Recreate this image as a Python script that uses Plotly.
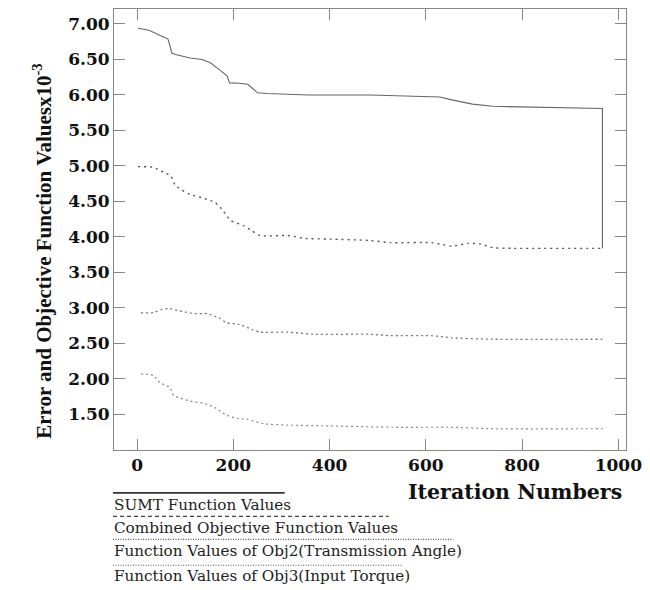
import plotly.graph_objects as go

# Convergence histories (values x 10^-3) against iteration number
sumt_x = [2, 25, 50, 64, 68, 72, 80, 110, 135, 153, 170, 187, 192, 212, 230, 242, 250, 270,
          315, 357, 484, 527, 569, 629, 654, 697, 739, 824, 967, 967]
sumt_y = [6.94, 6.91, 6.83, 6.79, 6.70, 6.59, 6.57, 6.52, 6.50, 6.45, 6.36, 6.27, 6.17, 6.165,
          6.15, 6.08, 6.03, 6.02, 6.01, 6.00, 6.00, 5.99, 5.98, 5.97, 5.93, 5.87, 5.84, 5.83,
          5.81, 3.84]

comb_x = [2, 34, 55, 70, 80, 110, 136, 161, 170, 183, 195, 221, 238, 255, 314, 348, 399, 484,
          527, 612, 637, 654, 689, 714, 739, 782, 967]
comb_y = [4.99, 4.98, 4.91, 4.86, 4.72, 4.60, 4.55, 4.49, 4.44, 4.33, 4.23, 4.16, 4.09, 4.02,
          4.02, 3.98, 3.97, 3.95, 3.92, 3.92, 3.89, 3.87, 3.91, 3.90, 3.85, 3.84, 3.84]

obj2_x = [8, 34, 51, 68, 94, 119, 145, 170, 187, 212, 238, 255, 314, 365, 484, 527, 612, 654,
          739, 967]
obj2_y = [2.93, 2.935, 2.98, 2.99, 2.95, 2.92, 2.92, 2.86, 2.79, 2.77, 2.70, 2.66, 2.66, 2.63,
          2.63, 2.61, 2.61, 2.58, 2.56, 2.56]

obj3_x = [8, 34, 47, 68, 76, 110, 136, 161, 183, 204, 229, 263, 314, 399, 535, 654, 739, 967]
obj3_y = [2.07, 2.05, 1.95, 1.88, 1.77, 1.69, 1.66, 1.60, 1.50, 1.45, 1.43, 1.37, 1.35, 1.34,
          1.32, 1.32, 1.30, 1.30]

x_ticks = [0, 200, 400, 600, 800, 1000]
y_ticks = [1.5, 2.0, 2.5, 3.0, 3.5, 4.0, 4.5, 5.0, 5.5, 6.0, 6.5, 7.0]

legend_names = ["SUMT Function Values",
                "Combined Objective Function Values",
                "Function Values of Obj2(Transmission Angle)",
                "Function Values of Obj3(Input Torque)"]

W, H = 650, 590
L, R, T, B = 114, 14, 8, 140
PW, PH = W - L - R, H - T - B


def px(x):
    return (x - L) / PW


def py(y):
    return (H - B - y) / PH


fig = go.Figure()
fig.add_trace(go.Scatter(x=sumt_x, y=sumt_y, mode="lines",
                         line=dict(color="#666666", width=1.1)))
fig.add_trace(go.Scatter(x=comb_x, y=comb_y, mode="lines", line_shape="spline",
                         line=dict(color="#555555", width=1.4, dash="2px,4px", smoothing=0.6)))
fig.add_trace(go.Scatter(x=obj2_x, y=obj2_y, mode="lines", line_shape="spline",
                         line=dict(color="#777777", width=1.3, dash="2px,3px", smoothing=0.6)))
fig.add_trace(go.Scatter(x=obj3_x, y=obj3_y, mode="lines", line_shape="spline",
                         line=dict(color="#888888", width=1.2, dash="2px,3px", smoothing=0.6)))

axis_common = dict(showline=True, mirror="ticks", linecolor="#888888", linewidth=1,
                   ticks="inside", ticklen=11, tickcolor="#888888", tickwidth=1,
                   showgrid=False, zeroline=False,
                   tickfont=dict(family="DejaVu Serif", size=17, color="#111111"))

fig.update_xaxes(range=[-48, 1016], tickvals=x_ticks, ticktext=[f"<b>{v}</b>" for v in x_ticks],
                 ticklabeloverflow="allow", **axis_common)
fig.update_yaxes(range=[1.0, 7.21], tickvals=y_ticks,
                 ticktext=[f"<b>{v:.2f}</b>" for v in y_ticks], **axis_common)

annotations = [
    dict(text="<b>Error and Objective Function Valuesx10<sup>-3</sup></b>", textangle=-90,
         x=px(41), y=py(250), xref="paper", yref="paper", xanchor="center", yanchor="middle",
         showarrow=False, font=dict(family="Liberation Serif", size=21, color="#111111")),
    dict(text="<b>Iteration Numbers</b>", x=px(523), y=py(492), xref="paper", yref="paper",
         xanchor="center", yanchor="middle", showarrow=False,
         font=dict(family="DejaVu Serif", size=20.5, color="#111111")),
]

text_rows = [505, 528.5, 551, 576]
for name, yr in zip(legend_names, text_rows):
    annotations.append(dict(text=name, x=px(112), y=py(yr), xref="paper", yref="paper",
                            xanchor="left", yanchor="middle", showarrow=False,
                            font=dict(family="DejaVu Serif", size=15.2, color="#222222")))

shapes = [
    dict(type="line", xref="paper", yref="paper", x0=px(113), x1=px(288), y0=py(493), y1=py(493),
         line=dict(color="#333333", width=1.8)),
    dict(type="line", xref="paper", yref="paper", x0=px(113), x1=px(394), y0=py(516.5),
         y1=py(516.5), line=dict(color="#444444", width=1.3, dash="4px,3px")),
    dict(type="line", xref="paper", yref="paper", x0=px(113), x1=px(460), y0=py(539.5),
         y1=py(539.5), line=dict(color="#555555", width=1.2, dash="1px,1.5px")),
    dict(type="line", xref="paper", yref="paper", x0=px(113), x1=px(408), y0=py(565.5),
         y1=py(565.5), line=dict(color="#555555", width=1.2, dash="1px,1.5px")),
]

fig.update_layout(width=W, height=H, margin=dict(l=L, r=R, t=T, b=B),
                  paper_bgcolor="white", plot_bgcolor="white", showlegend=False,
                  annotations=annotations, shapes=shapes)

fig.write_html("out.html")
